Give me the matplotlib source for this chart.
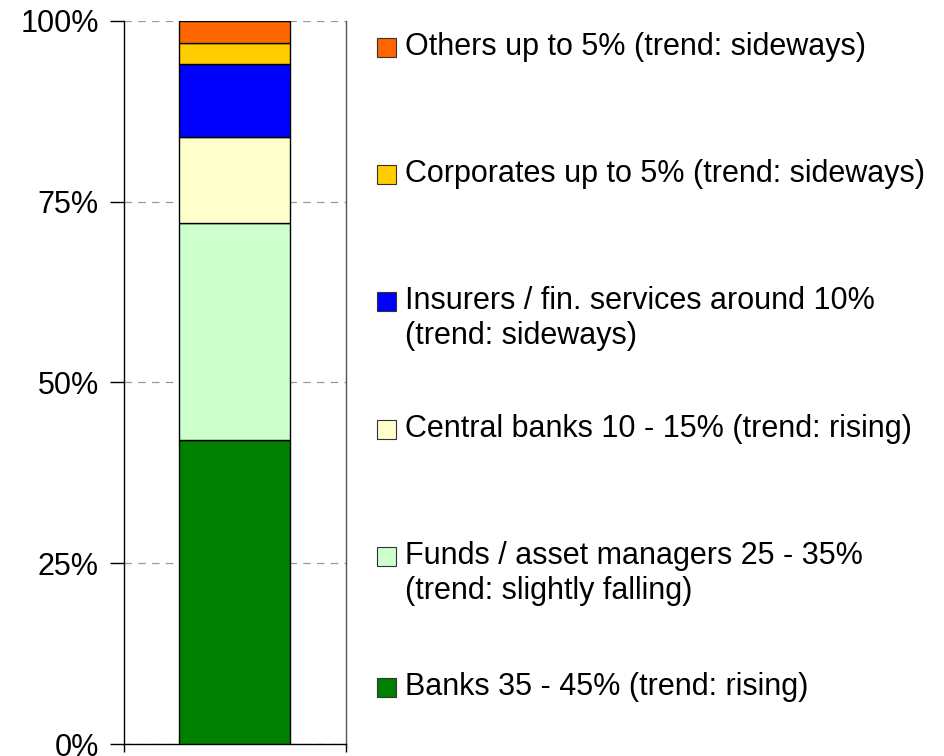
import matplotlib.pyplot as plt
from matplotlib.patches import Rectangle
from matplotlib.ticker import FuncFormatter

# investor groups, bottom to top of the stacked bar
groups = ['Banks', 'Funds', 'Central banks', 'Insurers', 'Corporates', 'Others']
shares = [42, 30, 12, 10, 3, 3]
colors = ['#008000', '#CCFFCC', '#FFFFCC', '#0000FF', '#FFCC00', '#FF6600']
labels = [
    'Banks 35 - 45% (trend: rising)',
    'Funds / asset managers 25 - 35%\n(trend: slightly falling)',
    'Central banks 10 - 15% (trend: rising)',
    'Insurers / fin. services around 10%\n(trend: sideways)',
    'Corporates up to 5% (trend: sideways)',
    'Others up to 5% (trend: sideways)',
]
# first-line centre of each legend entry, in pixels from the top
label_y = [686, 555, 428, 300, 173, 46]
yticks = [0, 25, 50, 75, 100]

plt.rcParams['font.family'] = ['Liberation Sans', 'DejaVu Sans']

W, H = 945, 756
fig = plt.figure(figsize=(W / 100, H / 100), dpi=100)
ax = fig.add_axes([124 / W, 1 - 744 / H, 222 / W, 723 / H])

bottom = 0
for s, c in zip(shares, colors):
    ax.bar(0, s, width=0.5, bottom=bottom, color=c, edgecolor='black',
           linewidth=1, zorder=3)
    bottom += s

ax.set_xlim(-0.5, 0.5)
ax.set_ylim(0, 100)
ax.set_yticks(yticks)
ax.yaxis.set_major_formatter(FuncFormatter(lambda v, p: f'{v:.0f}%'))
ax.tick_params(axis='y', length=10, width=1, pad=8, labelsize=22, direction='out')
ax.set_xticks([-0.5, 0.5])
ax.set_xticklabels([])
ax.tick_params(axis='x', length=6, width=1, direction='out')
ax.grid(axis='y', color='#999999', linestyle=(0, (6, 5)), linewidth=0.9, zorder=0)
ax.spines['top'].set_visible(False)
for sp in ['left', 'right', 'bottom']:
    ax.spines[sp].set_linewidth(1)
    ax.spines[sp].set_color('black')
ax.spines['right'].set_color('#555555')

for lab, c, yp in zip(labels, colors, label_y):
    fig.add_artist(Rectangle((377 / W, 1 - (yp + 11) / H), 19 / W, 19 / H,
                             transform=fig.transFigure, facecolor=c,
                             edgecolor='#333333', linewidth=0.8))
    fig.text(405 / W, 1 - (yp - 14) / H, lab, fontsize=22, va='top', ha='left',
             linespacing=1.2)

fig.savefig('out.png', dpi=100)
